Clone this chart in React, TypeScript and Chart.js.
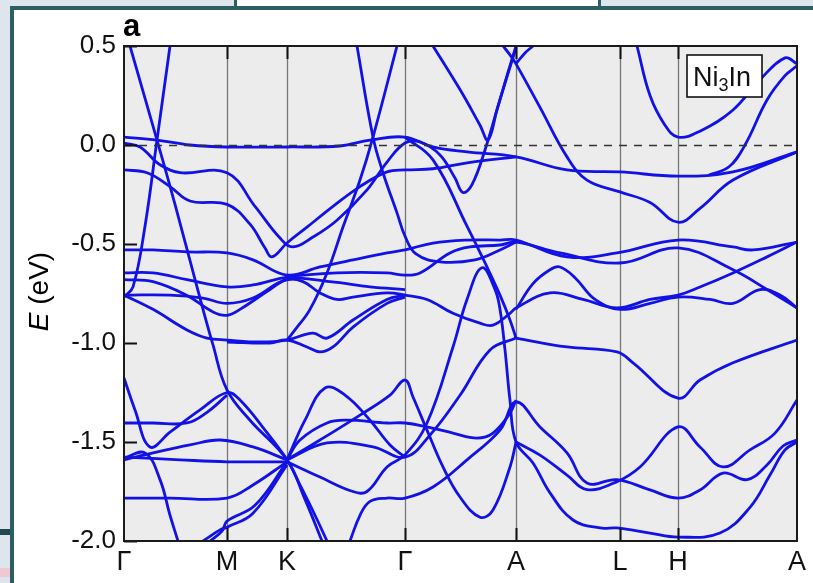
import React, { useEffect, useRef } from 'react';
import { Chart, registerables } from 'chart.js';

Chart.register(...registerables);

// High-symmetry path positions (k-path distance) and their labels
const kTicks = [0, 1.03, 1.63, 2.81, 3.92, 4.96, 5.54, 6.73];
const kLabels = ['Γ', 'M', 'K', 'Γ', 'A', 'L', 'H', 'A'];
const eTicks = [0.5, 0, -0.5, -1, -1.5, -2];

// Band energies E (eV) along the k-path, as [k, E] pairs
const bandNearFermi = [[0,0.04],[0.33,0.025],[0.66,0],[1.03,-0.01],[1.63,-0.01],[2.16,-0.005],[2.46,0.025],[2.81,0.04],[3.09,-0.01],[3.43,-0.035],[3.92,-0.06],[4.43,-0.126],[4.96,-0.136],[5.54,-0.157],[6.09,-0.136],[6.73,-0.035]];
const bandB = [[0,0.01],[0.16,-0.01],[0.36,-0.1],[0.56,-0.14],[1.03,-0.14],[1.31,-0.31],[1.56,-0.47],[1.69,-0.515],[1.89,-0.465],[2.13,-0.38],[2.43,-0.227],[2.63,-0.086],[2.81,0.01],[2.96,0.015],[3.16,-0.05],[3.31,-0.167],[3.39,-0.24],[3.48,-0.2],[3.61,-0.025],[3.76,0.23],[3.92,0.49]];
const bandC = [[0,-0.126],[0.23,-0.14],[0.46,-0.21],[0.66,-0.283],[1.03,-0.3],[1.26,-0.4],[1.41,-0.52],[1.48,-0.565],[1.63,-0.495],[1.83,-0.415],[2.09,-0.31],[2.36,-0.21],[2.63,-0.136],[2.81,-0.126],[3.09,-0.12],[3.43,-0.09],[3.92,-0.06]];
const bandATop = [[3.79,0.5],[3.86,0.455],[3.92,0.41],[4.16,0.19],[4.43,-0.06],[4.63,-0.177],[4.96,-0.237],[5.26,-0.29],[5.54,-0.39],[5.76,-0.32],[6.09,-0.177],[6.73,-0.035]];
const bandSteepGM = [[0.06,0.5],[0.33,0.025],[0.51,-0.3],[0.73,-0.717],[0.89,-1.01],[1.03,-1.237],[1.26,-1.39],[1.63,-1.59],[1.81,-1.79],[1.98,-2.0]];
const bandSteepGM2 = [[0.46,0.5],[0.33,0.025],[0.21,-0.41],[0.09,-0.717],[0,-0.768]];
const bandKG1 = [[2.33,0.5],[2.49,0.04],[2.59,-0.14],[2.73,-0.343],[2.81,-0.46],[2.92,-0.55],[3.16,-0.59],[3.51,-0.58],[3.76,-0.53],[3.92,-0.49]];
const bandKG2 = [[2.73,0.5],[2.49,0.04],[2.36,-0.177],[2.19,-0.414],[2.03,-0.646],[1.86,-0.83],[1.71,-0.934],[1.63,-0.985]];
const bandD = [[0,-0.53],[0.29,-0.53],[0.63,-0.54],[1.03,-0.545],[1.29,-0.58],[1.63,-0.657],[1.96,-0.616],[2.29,-0.58],[2.63,-0.545],[2.81,-0.53],[3.09,-0.495],[3.43,-0.48],[3.76,-0.48],[3.92,-0.48],[4.43,-0.565],[4.93,-0.545],[5.54,-0.48],[6.09,-0.515],[6.29,-0.53],[6.73,-0.49]];
const bandE = [[0,-0.646],[0.29,-0.646],[0.63,-0.68],[1.03,-0.717],[1.29,-0.707],[1.63,-0.667],[2.13,-0.646],[2.63,-0.646],[2.81,-0.657],[2.96,-0.646],[3.26,-0.545],[3.46,-0.515],[3.76,-0.505],[3.92,-0.49],[4.36,-0.545],[4.96,-0.596],[5.54,-0.52],[6.09,-0.63],[6.43,-0.73],[6.73,-0.823]];
const bandF = [[0,-0.68],[0.29,-0.69],[0.63,-0.76],[0.89,-0.843],[1.03,-0.86],[1.16,-0.83],[1.46,-0.73],[1.63,-0.68],[1.79,-0.69],[1.96,-0.747],[2.13,-0.78],[2.29,-0.768],[2.63,-0.747],[2.81,-0.758],[3.03,-0.78],[3.29,-0.85],[3.56,-0.9],[3.69,-0.91],[3.86,-0.85],[3.92,-0.823],[4.26,-0.747],[4.59,-0.78],[4.93,-0.823],[5.26,-0.78],[5.54,-0.758],[5.76,-0.717],[6.09,-0.646],[6.43,-0.565],[6.73,-0.49]];
const bandG = [[0,-0.758],[0.46,-0.758],[0.79,-0.773],[1.03,-0.8],[1.29,-0.773],[1.63,-0.68],[2.06,-0.69],[2.46,-0.717],[2.81,-0.73]];
const bandH = [[0,-0.758],[0.29,-0.83],[0.63,-0.934],[0.83,-0.975],[1.03,-0.985],[1.36,-0.995],[1.63,-0.985],[1.89,-0.95],[2.03,-0.975],[2.29,-0.884],[2.63,-0.78],[2.81,-0.758]];
const bandI = [[1.03,-0.995],[1.46,-1.0],[1.63,-0.985],[1.83,-1.02],[1.96,-1.045],[2.09,-1.02],[2.29,-0.92],[2.63,-0.8],[2.81,-0.768]];
const bandJ = [[0,-1.177],[0.11,-1.338],[0.26,-1.525],[0.46,-1.45],[0.76,-1.338],[1.03,-1.25],[1.16,-1.288],[1.41,-1.44],[1.63,-1.59],[1.76,-1.717],[1.91,-1.87],[2.03,-2.0]];
const bandK = [[0,-1.404],[0.29,-1.404],[0.63,-1.404],[0.83,-1.35],[1.03,-1.263]];
const bandL = [[0,-1.59],[0.29,-1.555],[0.66,-1.515],[0.96,-1.49],[1.29,-1.525],[1.63,-1.59]];
const bandM = [[0,-1.576],[0.56,-1.59],[1.03,-1.6],[1.36,-1.6],[1.63,-1.6]];
const bandN = [[0,-1.58],[0.21,-1.555],[0.36,-1.69],[0.46,-1.87],[0.54,-2.0]];
const bandO = [[1.63,-1.59],[1.81,-1.39],[2.01,-1.227],[2.21,-1.263],[2.46,-1.39],[2.66,-1.515],[2.81,-1.576]];
const bandP = [[1.63,-1.59],[1.96,-1.49],[2.36,-1.364],[2.66,-1.263],[2.81,-1.187],[2.89,-1.273],[3.03,-1.44],[3.19,-1.626],[3.36,-1.778],[3.56,-1.88],[3.69,-1.843],[3.86,-1.626],[3.92,-1.5]];
const bandQ = [[1.63,-1.59],[1.76,-1.49],[2.03,-1.404],[2.23,-1.39],[2.63,-1.404],[2.81,-1.404],[3.03,-1.424],[3.29,-1.455],[3.53,-1.48],[3.69,-1.455],[3.86,-1.354],[3.92,-1.288]];
const bandR = [[1.63,-1.6],[1.96,-1.677],[2.29,-1.75],[2.43,-1.75],[2.63,-1.626],[2.81,-1.565],[3.03,-1.404],[3.29,-1.02],[3.43,-0.78],[3.58,-0.62],[3.71,-0.73],[3.76,-0.83],[3.81,-1.035],[3.86,-1.29],[3.92,-1.5],[4.09,-1.606],[4.26,-1.757],[4.49,-1.894],[4.76,-1.934],[4.93,-1.934],[5.26,-1.96],[5.54,-1.98],[5.96,-1.96],[6.26,-1.83],[6.46,-1.667],[6.61,-1.54],[6.73,-1.5]];
const bandS = [[1.63,-1.59],[2.03,-1.505],[2.49,-1.525],[2.81,-1.576],[3.06,-1.465],[3.36,-1.264],[3.66,-1.035],[3.92,-0.975]];
const bandT = [[0,-1.783],[0.46,-1.783],[1.03,-1.783],[1.29,-1.717],[1.63,-1.6]];
const bandU = [[2.26,-2.0],[2.36,-1.87],[2.46,-1.8],[2.63,-1.783],[2.81,-1.783],[3.09,-1.727],[3.43,-1.59],[3.76,-1.44],[3.92,-1.298],[4.16,-1.424],[4.43,-1.555],[4.63,-1.707],[4.93,-1.69],[5.26,-1.742],[5.54,-1.783],[5.76,-1.742],[5.99,-1.657],[6.23,-1.69],[6.43,-1.616],[6.59,-1.52],[6.73,-1.49]];
const bandV = [[3.92,-1.5],[4.16,-1.566],[4.43,-1.667],[4.63,-1.74],[4.93,-1.7],[5.16,-1.626],[5.54,-1.424],[5.76,-1.525],[5.99,-1.626],[6.26,-1.54],[6.51,-1.455],[6.73,-1.288]];
const bandW = [[3.92,-0.975],[4.43,-1.02],[4.93,-1.045],[5.09,-1.1],[5.54,-1.278],[5.76,-1.187],[6.09,-1.1],[6.73,-0.985]];
const bandX = [[2.81,0.04],[3.09,-0.075],[3.43,-0.41],[3.63,-0.616],[3.76,-0.758],[3.86,-0.884],[3.92,-0.975]];
const bandZ = [[3.92,-0.83],[4.09,-0.7],[4.26,-0.63],[4.36,-0.616],[4.51,-0.67],[4.71,-0.78],[4.96,-0.83],[5.26,-0.8],[5.54,-0.768],[5.86,-0.78],[6.09,-0.8],[6.36,-0.73],[6.56,-0.758],[6.73,-0.823]];
const bandVtop = [[3.09,0.5],[3.36,0.28],[3.56,0.1],[3.64,0.025],[3.73,0.177],[3.83,0.35],[3.92,0.5]];
const bandAarc = [[3.92,0.41],[4.01,0.465],[4.09,0.5]];
const bandUright = [[5.13,0.5],[5.26,0.25],[5.41,0.1],[5.54,0.04],[5.76,0.07],[6.09,0.177],[6.36,0.33],[6.61,0.44],[6.73,0.41]];
const bandRise = [[5.85,-0.152],[6.05,-0.11],[6.21,0.0],[6.43,0.227],[6.61,0.35],[6.73,0.4]];
const bandBottomM1 = [[0.79,-2.0],[0.96,-1.944],[1.03,-1.93],[1.29,-1.86],[1.63,-1.616]];
const bandBottomM2 = [[0.86,-2.0],[0.98,-1.95],[1.03,-1.9],[1.31,-1.82],[1.63,-1.6]];

const bands = [
  bandNearFermi, bandB, bandC, bandATop, bandSteepGM, bandSteepGM2, bandKG1, bandKG2,
  bandD, bandE, bandF, bandG, bandH, bandI, bandJ, bandK, bandL, bandM, bandN, bandO,
  bandP, bandQ, bandR, bandS, bandT, bandU, bandV, bandW, bandX, bandZ,
  bandVtop, bandAarc, bandUright, bandRise, bandBottomM1, bandBottomM2,
];

const FONT = "'Liberation Sans', Arial, Helvetica, sans-serif";
const BAND_COLOR = '#1212e6';

// Panel decorations: shaded plot area, symmetry lines, Fermi level, inward ticks, labels
const panelPlugin = {
  id: 'bandPanel',
  beforeDraw(chart: any) {
    const { ctx, chartArea: a } = chart;
    ctx.save();
    ctx.fillStyle = '#ececec';
    ctx.fillRect(a.left, a.top, a.right - a.left, a.bottom - a.top);
    ctx.restore();
  },
  beforeDatasetsDraw(chart: any) {
    const { ctx, chartArea: a, scales } = chart;
    ctx.save();
    ctx.strokeStyle = '#777';
    ctx.lineWidth = 1.3;
    kTicks.slice(1, -1).forEach((k) => {
      const px = Math.round(scales.x.getPixelForValue(k)) + 0.5;
      ctx.beginPath();
      ctx.moveTo(px, a.top);
      ctx.lineTo(px, a.bottom);
      ctx.stroke();
    });
    ctx.restore();
  },
  afterDatasetsDraw(chart: any) {
    const { ctx, chartArea: a, scales } = chart;
    ctx.save();
    // Fermi level
    const y0 = Math.round(scales.y.getPixelForValue(0)) + 0.5;
    ctx.strokeStyle = '#333';
    ctx.lineWidth = 1.7;
    ctx.setLineDash([8, 7]);
    ctx.beginPath();
    ctx.moveTo(a.left, y0);
    ctx.lineTo(a.right, y0);
    ctx.stroke();
    ctx.setLineDash([]);

    // inward ticks
    ctx.strokeStyle = '#111';
    ctx.lineWidth = 2;
    const tl = 13;
    eTicks.forEach((e) => {
      const py = Math.round(scales.y.getPixelForValue(e)) + 0.5;
      ctx.beginPath();
      ctx.moveTo(a.left, py);
      ctx.lineTo(a.left + tl, py);
      ctx.stroke();
    });
    kTicks.slice(1, -1).forEach((k) => {
      const px = Math.round(scales.x.getPixelForValue(k)) + 0.5;
      ctx.beginPath();
      ctx.moveTo(px, a.top);
      ctx.lineTo(px, a.top + tl);
      ctx.moveTo(px, a.bottom);
      ctx.lineTo(px, a.bottom - tl);
      ctx.stroke();
    });

    // frame
    ctx.strokeStyle = '#1a1a1a';
    ctx.lineWidth = 2;
    ctx.strokeRect(a.left, a.top, a.right - a.left, a.bottom - a.top);

    // panel letter
    ctx.fillStyle = '#000';
    ctx.font = `bold 31px ${FONT}`;
    ctx.textAlign = 'left';
    ctx.textBaseline = 'alphabetic';
    ctx.fillText('a', a.left - 1, a.top - 10);

    // axis title E (eV), rotated
    ctx.translate(a.left - 84, (a.top + a.bottom) / 2 - 2);
    ctx.rotate(-Math.PI / 2);
    ctx.textBaseline = 'middle';
    ctx.font = `italic 28px ${FONT}`;
    const eW = ctx.measureText('E').width;
    ctx.font = `28px ${FONT}`;
    const restW = ctx.measureText(' (eV)').width;
    const startX = -(eW + restW) / 2;
    ctx.font = `italic 28px ${FONT}`;
    ctx.textAlign = 'left';
    ctx.fillText('E', startX, 0);
    ctx.font = `28px ${FONT}`;
    ctx.fillText(' (eV)', startX + eW, 0);
    const dpr = chart.currentDevicePixelRatio || 1;
    ctx.setTransform(dpr, 0, 0, dpr, 0, 0);

    // compound label box
    const bx = a.right - 110;
    const by = a.top + 9;
    const bw = 75;
    const bh = 42;
    ctx.fillStyle = '#fff';
    ctx.fillRect(bx, by, bw, bh);
    ctx.strokeStyle = '#111';
    ctx.lineWidth = 1.6;
    ctx.strokeRect(bx, by, bw, bh);
    ctx.fillStyle = '#111';
    ctx.textBaseline = 'alphabetic';
    ctx.textAlign = 'left';
    let tx = bx + 6;
    const base = by + 31;
    ctx.font = `27px ${FONT}`;
    ctx.fillText('Ni', tx, base);
    tx += ctx.measureText('Ni').width;
    ctx.font = `18px ${FONT}`;
    ctx.fillText('3', tx, base + 5);
    tx += ctx.measureText('3').width;
    ctx.font = `27px ${FONT}`;
    ctx.fillText('In', tx, base);
    ctx.restore();
  },
};

function BandChart() {
  const canvasRef = useRef<HTMLCanvasElement | null>(null);

  useEffect(() => {
    if (!canvasRef.current) return;
    const datasets = bands.map((band, i) => ({
      label: `band ${i + 1}`,
      data: band.map(([k, e]) => ({ x: k, y: e })),
      borderColor: BAND_COLOR,
      borderWidth: 2.8,
      pointRadius: 0,
      tension: 0.4,
      fill: false,
    }));

    const chart = new Chart(canvasRef.current, {
      type: 'line',
      data: { datasets },
      options: {
        animation: false,
        responsive: true,
        maintainAspectRatio: false,
        layout: { padding: { left: 0, top: 36, right: 16, bottom: 0 } },
        plugins: { legend: { display: false }, tooltip: { enabled: false } },
        scales: {
          x: {
            type: 'linear',
            min: 0,
            max: 6.73,
            grid: { display: false, drawTicks: false },
            border: { display: false },
            afterBuildTicks: (scale: any) => {
              scale.ticks = kTicks.map((value) => ({ value }));
            },
            afterFit: (scale: any) => {
              scale.height = 42;
            },
            ticks: {
              autoSkip: false,
              maxRotation: 0,
              padding: 5,
              color: '#111',
              font: { family: FONT, size: 27 },
              callback: (_v: any, i: number) => kLabels[i],
            },
          },
          y: {
            type: 'linear',
            min: -2,
            max: 0.5,
            grid: { display: false, drawTicks: false },
            border: { display: false },
            afterBuildTicks: (scale: any) => {
              scale.ticks = eTicks.map((value) => ({ value }));
            },
            afterFit: (scale: any) => {
              scale.width = 110;
            },
            ticks: {
              padding: 8,
              color: '#111',
              font: { family: FONT, size: 26 },
              callback: (v: any) => Number(v).toFixed(1),
            },
          },
        },
      },
      plugins: [panelPlugin],
    });
    return () => chart.destroy();
  }, []);

  return <canvas ref={canvasRef} />;
}

export default function App() {
  const teal = '#2d5e64';
  return (
    <div style={{ position: 'absolute', left: 0, top: 0, width: 813, height: 583, background: '#dfe5ec', overflow: 'hidden' }}>
      <div style={{ position: 'absolute', left: 234, top: 0, width: 367, height: 8, background: '#fff', borderLeft: `3px solid ${teal}`, borderRight: `3px solid ${teal}`, boxSizing: 'border-box' }} />
      <div style={{ position: 'absolute', left: 10, top: 6, width: 803, height: 577, background: '#fff', borderLeft: `4px solid ${teal}`, borderTop: `4px solid ${teal}`, boxSizing: 'border-box' }} />
      <div style={{ position: 'absolute', left: 0, top: 529, width: 10, height: 6, background: '#1f4a50' }} />
      <div style={{ position: 'absolute', left: 0, top: 568, width: 10, height: 9, background: '#f0c8d2' }} />
      <div style={{ position: 'absolute', left: 14, top: 10, width: 799, height: 573 }}>
        <BandChart />
      </div>
    </div>
  );
}
